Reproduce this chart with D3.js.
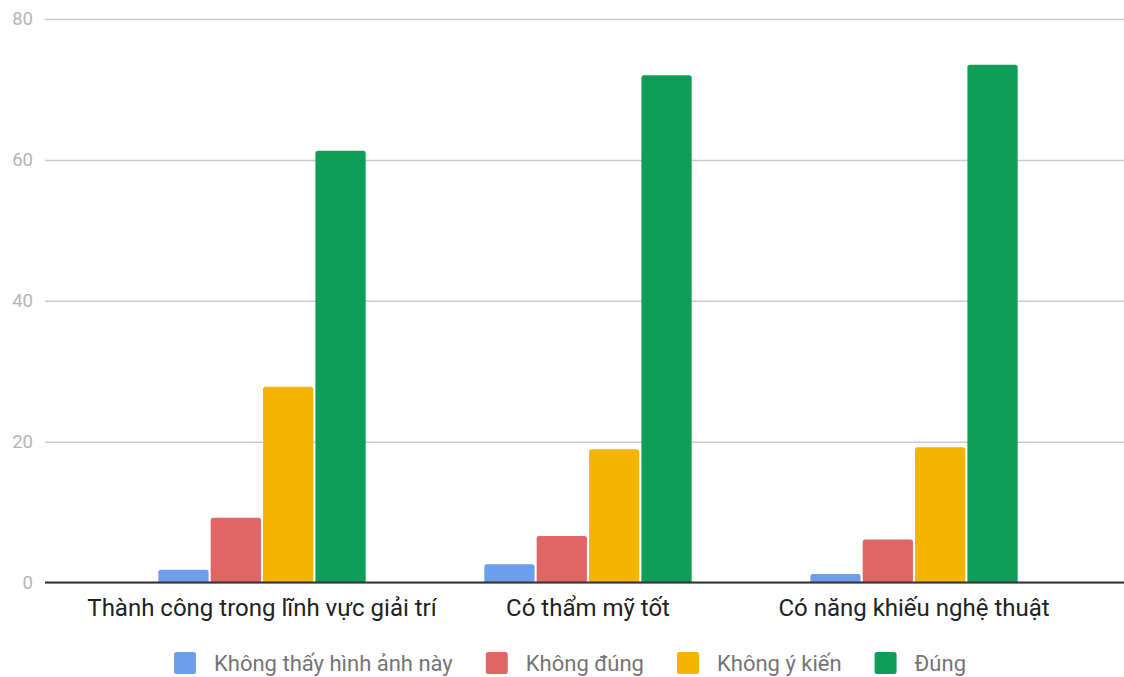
<!DOCTYPE html>
<html>
<head>
<meta charset="utf-8">
<script src="https://cdn.jsdelivr.net/npm/d3@7"></script>
<style>
  html, body { margin: 0; padding: 0; background: #fff; }
  svg { display: block; font-family: Roboto, "Noto Sans", sans-serif; }
</style>
</head>
<body>
<svg id="chart" width="1124" height="677"></svg>
<script>
// Survey answers per statement (percent)
const categories = ["Thành công trong lĩnh vực giải trí", "Có thẩm mỹ tốt", "Có năng khiếu nghệ thuật"];
const seriesNames = ["Không thấy hình ảnh này", "Không đúng", "Không ý kiến", "Đúng"];
const seriesColors = ["#6d9eeb", "#e06666", "#f4b400", "#0f9d58"];
const khongThay = [1.8, 2.6, 1.2];
const khongDung = [9.2, 6.6, 6.1];
const khongYKien = [27.8, 18.9, 19.2];
const dung = [61.3, 72.0, 73.5];
const yTicks = [0, 20, 40, 60, 80];

const seriesValues = [khongThay, khongDung, khongYKien, dung];
const rows = categories.map((c, i) => ({
  category: c,
  values: seriesNames.map((s, j) => ({ series: s, color: seriesColors[j], value: seriesValues[j][i] }))
}));

const svg = d3.select("#chart");
const plot = { left: 45, right: 1124, top: 19, bottom: 582.5 };

const y = d3.scaleLinear().domain([0, 80]).range([plot.bottom, plot.top]);
const x0 = d3.scaleBand().domain(categories).range([99, 1077]).paddingInner(0.364).paddingOuter(0.182);
const x1 = d3.scaleBand().domain(seriesNames).range([0, x0.bandwidth()]).paddingInner(0.04);

// horizontal gridlines and tick labels
const yAxis = d3.axisLeft(y).tickValues(yTicks).tickSize(-(plot.right - plot.left)).tickPadding(12);
const gy = svg.append("g").attr("transform", `translate(${plot.left},0)`).call(yAxis);
gy.select(".domain").remove();
gy.selectAll(".tick line").attr("stroke", "#cccccc").attr("stroke-width", 1.5);
gy.selectAll(".tick text").attr("fill", "#b5b5b5").attr("font-size", 18.5).attr("font-family", "Roboto, sans-serif");

// bars
const groups = svg.append("g").selectAll("g").data(rows).join("g")
  .attr("transform", d => `translate(${x0(d.category)},0)`);

groups.selectAll("path").data(d => d.values).join("path")
  .attr("fill", d => d.color)
  .attr("d", d => {
    const bx = x1(d.series), bw = x1.bandwidth();
    const top = y(d.value), bot = y(0), r = Math.min(2.5, (bot - top) / 2);
    return `M${bx},${bot} V${top + r} Q${bx},${top} ${bx + r},${top} H${bx + bw - r} Q${bx + bw},${top} ${bx + bw},${top + r} V${bot} Z`;
  });

// baseline
svg.append("line")
  .attr("x1", plot.left).attr("x2", plot.right)
  .attr("y1", y(0)).attr("y2", y(0))
  .attr("stroke", "#333333").attr("stroke-width", 2);

// category labels
const xAxis = d3.axisBottom(x0).tickSize(0).tickPadding(16);
const gx = svg.append("g").attr("transform", `translate(0,${y(0)})`).call(xAxis);
gx.select(".domain").remove();
gx.selectAll(".tick text").attr("fill", "#222222").attr("font-size", 24).attr("font-family", "Roboto, sans-serif");

// legend
const legendY = 663;
const legend = svg.append("g");
const items = legend.selectAll("g").data(seriesNames).join("g");
items.append("rect")
  .attr("width", 22).attr("height", 22).attr("rx", 2.5)
  .attr("y", legendY - 11)
  .attr("fill", (d, i) => seriesColors[i]);
items.append("text")
  .attr("x", 40).attr("y", legendY).attr("dy", "0.35em")
  .attr("fill", "#757575").attr("font-size", 22).attr("font-family", "Roboto, sans-serif")
  .text(d => d);
let cursor = 174;
items.each(function () {
  const g = d3.select(this);
  g.attr("transform", `translate(${cursor},0)`);
  const w = g.select("text").node().getComputedTextLength();
  cursor += 40 + w + 33;
});
</script>
</body>
</html>
